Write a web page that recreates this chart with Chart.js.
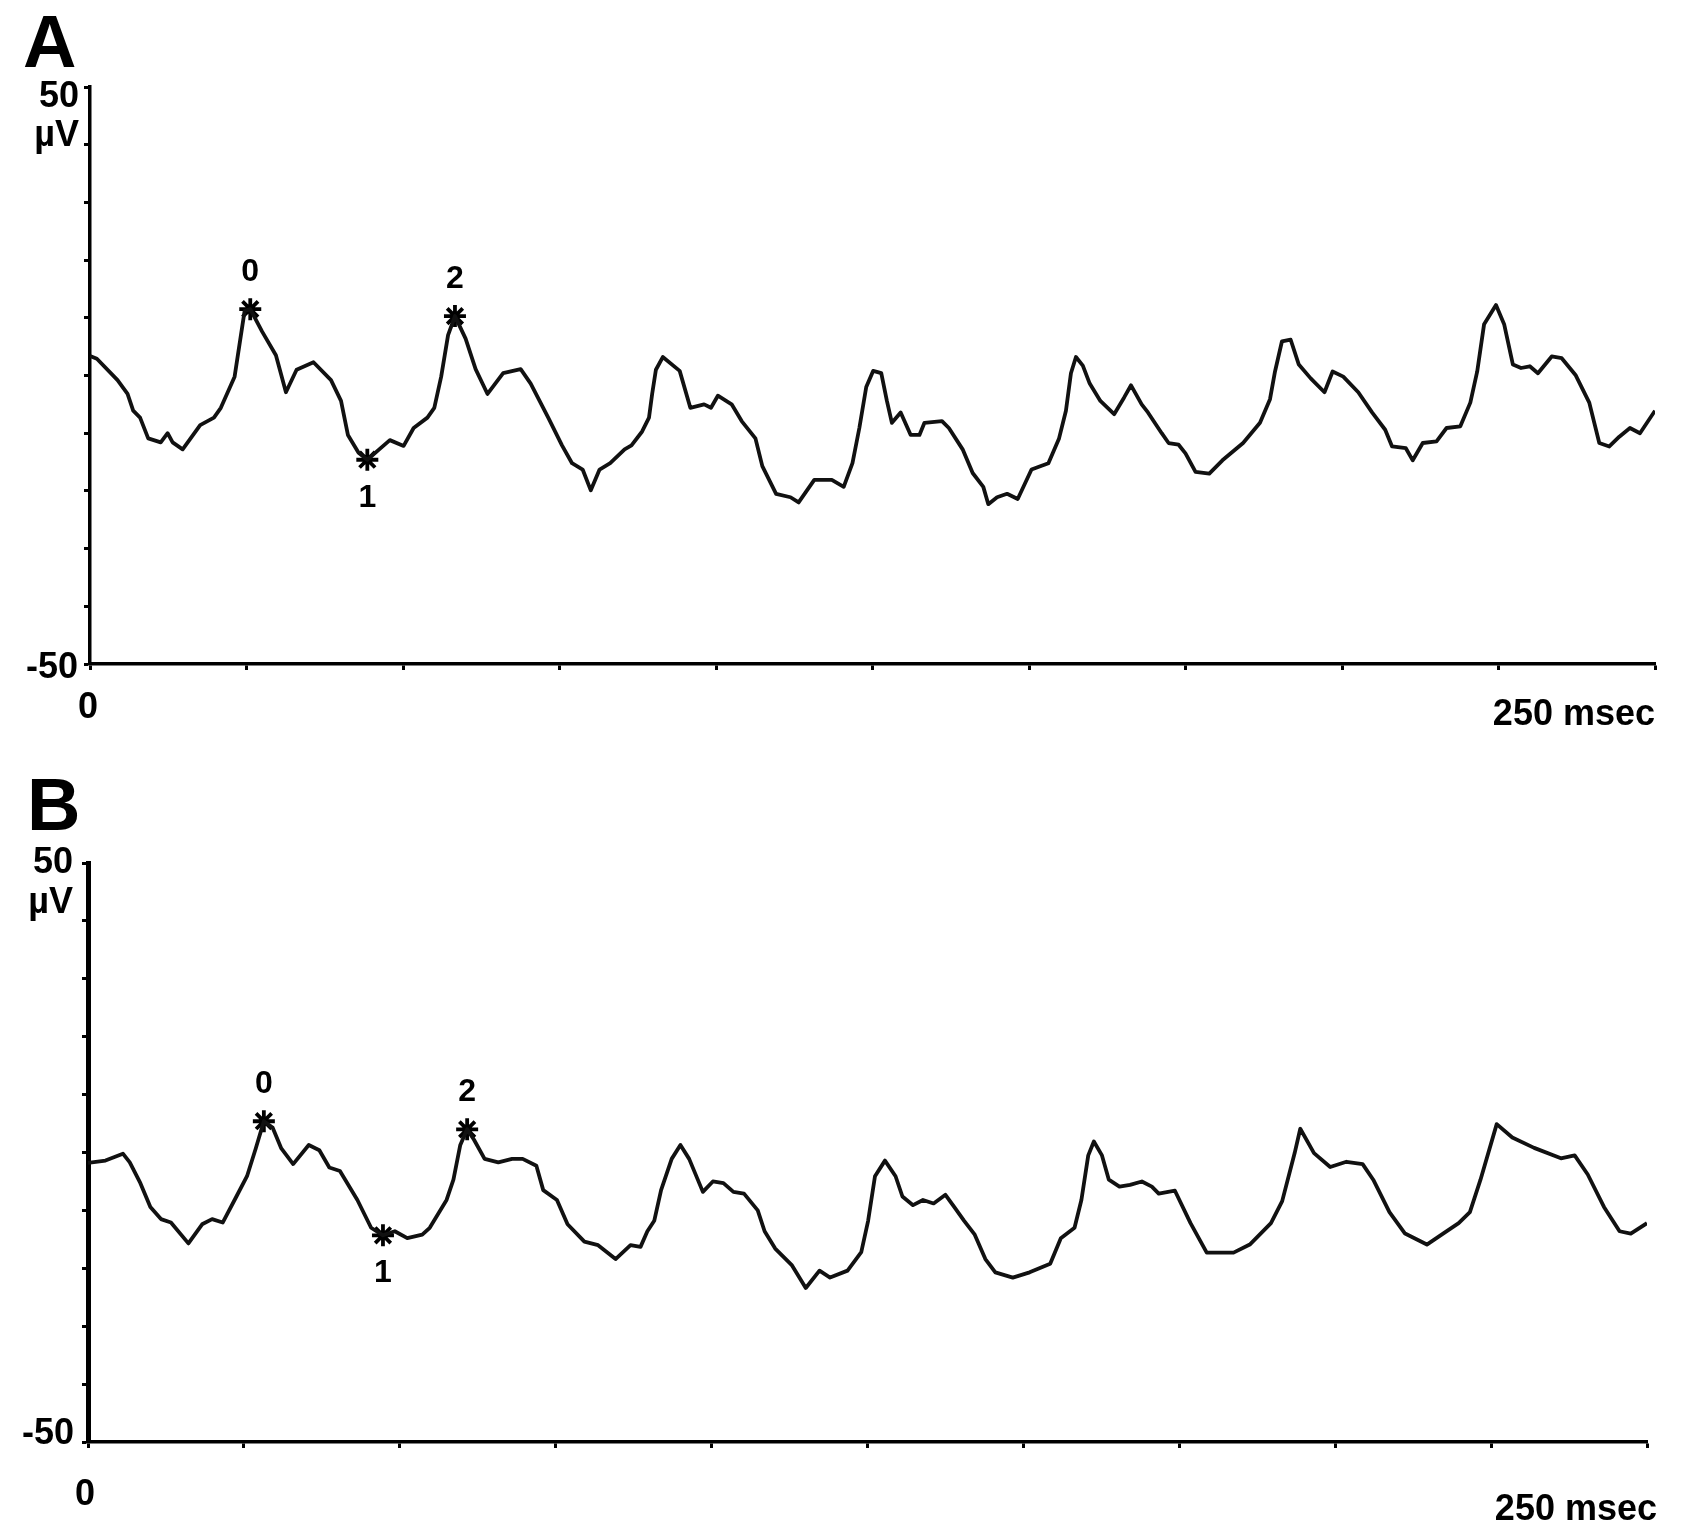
<!DOCTYPE html>
<html><head><meta charset="utf-8">
<script src="https://cdn.jsdelivr.net/npm/chart.js@4.4.1/dist/chart.umd.min.js"></script>
<style>
html,body{margin:0;padding:0;background:#fff;}
#wrap{position:relative;width:1682px;height:1536px;background:#fff;}
canvas{position:absolute;left:0;}
#cA{top:0;} #cB{top:740px;}
</style></head><body>
<div id="wrap"><canvas id="cA" width="1682" height="740"></canvas><canvas id="cB" width="1682" height="796"></canvas></div>
<script>
// ---- data (ms, µV) ----
const timesA = [0,1.1,4.4,6.0,6.9,8.0,9.3,11.3,12.4,13.2,14.8,17.6,19.8,20.9,23.1,24.7,25.6,27.5,29.7,31.3,33.0,35.7,38.5,40.1,41.2,42.9,44.3,46.2,47.9,50.1,51.7,53.9,55.0,56.1,57.2,58.3,60.0,61.6,63.5,66.0,68.8,70.4,73.2,75.4,77.0,78.7,80.0,81.4,83.1,85.4,86.5,88.2,89.3,89.8,90.4,91.5,94.2,95.9,98.1,99.2,100.3,102.5,104.1,106.3,107.4,109.6,111.9,113.2,115.7,118.5,120.4,121.8,122.9,124.0,125.1,126.4,127.3,128.1,129.5,131.1,132.5,133.3,136.1,137.2,139.4,141.0,142.7,143.5,144.9,146.5,148.2,150.4,153.1,154.8,155.9,156.7,157.5,158.6,159.7,161.4,163.6,165.2,166.3,168.0,169.0,171.2,172.3,173.9,175.0,176.6,178.8,180.9,184.2,186.9,188.5,189.3,190.4,191.8,193.1,195.0,197.2,198.5,200.2,202.6,204.8,206.9,208.0,210.2,211.3,212.9,215.1,216.7,218.9,220.5,221.6,222.7,224.6,225.9,227.3,228.6,230.0,231.3,233.5,235.1,237.3,239.5,241.1,242.7,244.3,246.0,247.6,250.0];
const valuesA = [3.4,2.9,-0.8,-3.2,-6.1,-7.3,-10.9,-11.6,-10.0,-11.6,-12.8,-8.6,-7.3,-5.6,-0.2,11.2,11.5,7.6,3.5,-2.9,1.0,2.3,-0.8,-4.4,-10.3,-13.4,-14.6,-12.8,-11.2,-12.2,-9.1,-7.3,-5.6,-0.2,7.0,10.3,6.4,1.1,-3.2,0.4,1.1,-1.4,-7.3,-12.1,-15.2,-16.3,-19.9,-16.3,-15.2,-12.8,-12.1,-9.7,-7.3,-3.2,1.0,3.2,0.8,-5.6,-5.0,-5.6,-3.5,-5.0,-7.9,-10.9,-15.7,-20.5,-21.1,-22.0,-18.1,-18.1,-19.3,-15.2,-9.1,-2.0,0.8,0.4,-4.4,-8.2,-6.4,-10.3,-10.3,-8.2,-7.9,-9.1,-12.8,-16.9,-19.3,-22.3,-21.1,-20.5,-21.4,-16.3,-15.2,-10.9,-6.1,0.4,3.2,1.7,-1.4,-4.4,-6.7,-3.8,-1.7,-5.0,-6.4,-10.0,-11.7,-12.0,-13.5,-16.7,-17.0,-14.7,-11.7,-8.2,-4.1,0.7,5.9,6.2,1.9,-0.5,-2.9,0.7,-0.2,-2.9,-6.4,-9.4,-12.3,-12.6,-14.7,-11.7,-11.4,-9.1,-8.8,-4.7,0.7,8.9,12.2,8.9,1.9,1.3,1.6,0.4,3.3,3.0,0.1,-4.7,-11.7,-12.3,-10.6,-9.1,-10.0,-6.1];
const timesB = [0.0,2.8,5.6,6.7,8.4,10.0,11.7,13.3,16.1,18.3,19.9,21.6,23.8,25.5,26.9,28.2,29.6,31.0,32.9,35.4,37.1,38.7,40.4,43.2,45.4,47.3,49.2,51.2,53.6,54.8,57.5,58.6,59.7,60.8,61.9,63.6,65.8,68.0,69.7,71.9,73.0,75.2,76.9,79.6,81.8,84.6,87.0,88.6,89.7,90.8,91.9,93.6,95.0,96.4,98.6,100.2,101.9,103.5,105.2,107.4,108.5,110.2,112.9,115.1,117.3,119.0,121.8,124.0,125.1,126.2,127.8,129.5,130.6,132.3,133.9,135.6,137.5,138.9,140.5,142.2,143.9,145.5,148.3,151.0,154.3,156.0,158.2,159.3,160.4,161.3,162.6,163.7,165.4,167.1,169.0,170.6,171.7,174.3,176.8,179.4,183.7,186.3,189.7,191.5,193.5,194.4,196.6,199.2,201.8,204.4,206.1,208.7,211.2,214.7,217.3,219.8,221.6,223.3,225.9,228.4,231.9,236.2,238.4,240.5,243.1,245.6,247.4,250.0];
const valuesB = [-1.8,-1.4,-0.2,-1.7,-5.3,-9.4,-11.5,-12.1,-15.7,-12.4,-11.5,-12.1,-7.6,-4.1,0.7,5.4,4.3,0.7,-2.0,1.3,0.4,-2.6,-3.2,-8.2,-13.0,-14.3,-13.6,-14.8,-14.2,-13.0,-8.2,-4.7,1.3,4.0,2.2,-1.1,-1.7,-1.1,-1.1,-2.3,-6.5,-8.2,-12.4,-15.4,-16.0,-18.4,-16.0,-16.3,-13.6,-11.8,-6.5,-1.1,1.3,-1.1,-6.8,-5.0,-5.3,-6.8,-7.1,-10.0,-13.6,-16.6,-19.5,-23.4,-20.4,-21.6,-20.4,-17.2,-11.8,-4.1,-1.4,-4.1,-7.6,-9.1,-8.2,-8.8,-7.3,-9.4,-11.8,-14.2,-18.4,-20.7,-21.6,-20.7,-19.2,-14.8,-13.0,-8.2,-0.5,1.9,-0.5,-4.7,-5.9,-5.6,-5.0,-5.9,-7.1,-6.6,-12.2,-17.3,-17.3,-15.9,-12.2,-8.4,-0.1,4.1,-0.1,-2.5,-1.6,-2.0,-4.7,-10.3,-14.0,-15.9,-14.0,-12.2,-10.3,-4.7,4.9,2.6,0.8,-1.0,-0.5,-3.8,-9.4,-13.6,-14.0,-12.2];
const markerTimesA = [25.6, 44.3, 58.3];
const markerValuesA = [11.5, -14.6, 10.3];
const markerTimesB = [28.2, 47.3, 60.8];
const markerValuesB = [5.4, -14.3, 4.0];
const markerLabels = ['0', '1', '2'];
const panelLabels = ['A', 'B'];
const yLabels = ['50', 'µV', '-50'];
const xLabels = ['0', '250 msec'];
const xMin = 0, xMax = 250, xStep = 25;
const yMin = -50, yMax = 50, yStep = 10;

const FONT = '"Liberation Sans", Arial, Helvetica, sans-serif';

const textPlugin = {
  id: 'panelText',
  afterDraw(chart, args, o) {
    const ctx = chart.ctx;
    const xs = chart.scales.x, ys = chart.scales.y;
    const x0 = xs.getPixelForValue(xMin), x1 = xs.getPixelForValue(xMax);
    const yT = ys.getPixelForValue(yMax), yB = ys.getPixelForValue(yMin);
    ctx.save();
    ctx.fillStyle = '#000';
    ctx.textBaseline = 'middle';
    // panel letter
    ctx.font = 'bold 74px ' + FONT;
    ctx.textAlign = 'left';
    ctx.fillText(o.letter, x0 + o.letterDx, yT + o.letterDy);
    // axis labels
    ctx.font = 'bold 36px ' + FONT;
    ctx.textAlign = 'right';
    ctx.fillText(yLabels[0], x0 + o.topDx, yT + o.topDy);
    ctx.fillText(yLabels[1], x0 + o.topDx, yT + o.unitDy);
    ctx.fillText(yLabels[2], x0 + o.botDx, yB + o.botDy);
    ctx.textAlign = 'center';
    ctx.fillText(xLabels[0], x0 + o.zeroDx, yB + o.zeroDy);
    ctx.textAlign = 'right';
    ctx.fillText(xLabels[1], x1 + o.endDx, yB + o.endDy);
    // marker labels
    ctx.font = 'bold 32px ' + FONT;
    ctx.textAlign = 'center';
    const meta = chart.getDatasetMeta(1);
    meta.data.forEach((pt, i) => {
      const dy = markerLabels[i] === '1' ? 38 : -37;
      ctx.fillText(markerLabels[i], pt.x, pt.y + dy);
    });
    ctx.restore();
  }
};

function makeChart(id, times, values, mTimes, mValues, pad, yBorder, txt) {
  const pts = times.map((t, i) => ({x: t, y: values[i]}));
  const mpts = mTimes.map((t, i) => ({x: t, y: mValues[i]}));
  return new Chart(document.getElementById(id), {
    type: 'line',
    data: {
      datasets: [
        {data: pts, borderColor: '#111', borderWidth: 3.8, borderJoinStyle: 'round', pointRadius: 0, tension: 0, fill: false},
        {data: mpts, showLine: false, pointStyle: 'star', pointRadius: 11, borderWidth: 3.8,
         borderColor: '#000', backgroundColor: '#000'}
      ]
    },
    options: {
      responsive: false, animation: false, devicePixelRatio: 1,
      layout: {padding: pad},
      plugins: {legend: {display: false}, tooltip: {enabled: false}, panelText: txt},
      scales: {
        x: {type: 'linear', min: xMin, max: xMax,
            ticks: {display: false, stepSize: xStep},
            grid: {display: true, drawOnChartArea: false, drawTicks: true, tickLength: 6, tickWidth: 3, tickColor: '#000'},
            border: {display: true, color: '#000', width: 3.5}},
        y: {type: 'linear', min: yMin, max: yMax,
            ticks: {display: false, stepSize: yStep},
            grid: {display: true, drawOnChartArea: false, drawTicks: true, tickLength: 6, tickWidth: 3, tickColor: '#000'},
            border: {display: true, color: '#000', width: yBorder}}
      }
    },
    plugins: [textPlugin]
  });
}

makeChart('cA', timesA, valuesA, markerTimesA, markerValuesA,
  {left: 84, top: 87, right: 27, bottom: 70}, 3.5,
  {letter: panelLabels[0], letterDx: -67, letterDy: -40, topDx: -11, topDy: 10, unitDy: 49,
   botDx: -12, botDy: 4, zeroDx: -2, zeroDy: 44, endDx: 0, endDy: 51});
makeChart('cB', timesB, valuesB, markerTimesB, markerValuesB,
  {left: 82, top: 123, right: 35, bottom: 88}, 5,
  {letter: panelLabels[1], letterDx: -61, letterDy: -53, topDx: -15, topDy: 0, unitDy: 40,
   botDx: -14, botDy: -8, zeroDx: -3, zeroDy: 53, endDx: 10, endDy: 68});
</script>
</body></html>
